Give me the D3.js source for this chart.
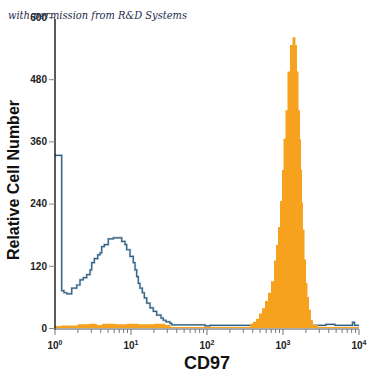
<!DOCTYPE html>
<html lang="en">
<meta charset="UTF-8">
<title>CD97</title>
<script src="https://d3js.org/d3.v7.min.js"></script>
<style>
html, body { margin: 0; padding: 0; background: #fff; }
svg text { font-family: "Liberation Sans", Arial, sans-serif; }
</style>
<body>
<div id="chart"></div>
<script>
// y tick values and x decades
var yTicks = [0, 120, 240, 360, 480, 600];
var xDecades = [0, 1, 2, 3, 4];

// blue (isotype) histogram: [log10 left edge, count]
var isotypeSteps = [
  [0.000, 333], [0.088, 72], [0.118, 68], [0.158, 66], [0.220, 77], [0.286, 83],
  [0.329, 93], [0.372, 97], [0.417, 103], [0.461, 112], [0.483, 126], [0.517, 134],
  [0.562, 141], [0.592, 145], [0.614, 157], [0.649, 161], [0.701, 172], [0.767, 174],
  [0.878, 167], [0.921, 161], [0.943, 151], [0.987, 138], [1.030, 126], [1.053, 112],
  [1.075, 99], [1.096, 86], [1.118, 77], [1.149, 68], [1.175, 58], [1.207, 48],
  [1.250, 39], [1.293, 32], [1.338, 25], [1.395, 19], [1.425, 15], [1.461, 12],
  [1.513, 9], [1.536, 6], [1.974, 4], [2.039, 5], [3.263, 10], [3.309, 5],
  [3.566, 7], [3.684, 5], [3.914, 11], [3.941, 5], [4.000, 5]
];

// orange (CD97 stained) histogram: [log10 left edge, count]
var stainedSteps = [
  [0.000, 4], [0.080, 5], [0.300, 7], [0.450, 8], [0.550, 6], [0.620, 8],
  [0.800, 7], [0.950, 8], [1.100, 7], [1.300, 8], [1.450, 6], [1.520, 2],
  [2.566, 8], [2.605, 12], [2.645, 18], [2.684, 28], [2.724, 38], [2.763, 52],
  [2.803, 68], [2.842, 90], [2.882, 130], [2.908, 160], [2.934, 195], [2.961, 245],
  [2.987, 305], [3.007, 365], [3.033, 420], [3.059, 495], [3.092, 546], [3.125, 561],
  [3.164, 546], [3.184, 495], [3.204, 420], [3.224, 364], [3.237, 306], [3.250, 242],
  [3.263, 190], [3.283, 132], [3.303, 87], [3.322, 60], [3.342, 35], [3.368, 15],
  [3.395, 6], [3.460, 2], [4.000, 2]
];

var W = 375, H = 375;
var svg = d3.select("#chart").append("svg")
    .attr("width", W).attr("height", H);

var x = d3.scaleLog().domain([1, 10000]).range([55, 359]);
var y = d3.scaleLinear().domain([0, 600]).range([328, 17]);

// blue outline
var line = d3.line()
    .x(function(d) { return x(Math.pow(10, d[0])); })
    .y(function(d) { return y(d[1]); })
    .curve(d3.curveStepAfter);

svg.append("path")
    .datum(isotypeSteps)
    .attr("fill", "none")
    .attr("stroke", "#c9d9e4")
    .attr("stroke-width", 2.4)
    .attr("d", line);
svg.append("path")
    .datum(isotypeSteps)
    .attr("fill", "none")
    .attr("stroke", "#2f5c7c")
    .attr("stroke-width", 1.2)
    .attr("d", line);

// orange filled histogram
var area = d3.area()
    .x(function(d) { return x(Math.pow(10, d[0])); })
    .y0(y(0))
    .y1(function(d) { return y(d[1]); })
    .curve(d3.curveStepAfter);

svg.append("path")
    .datum(stainedSteps)
    .attr("fill", "#f6a21e")
    .attr("d", area);

// y axis
var yAxis = svg.append("g")
    .attr("transform", "translate(55,0)")
    .call(d3.axisLeft(y).tickValues(yTicks).tickSize(6).tickPadding(2));
yAxis.select(".domain").attr("stroke", "#000").attr("stroke-width", 1.3)
    .attr("d", "M0," + (y(600) + 2) + "V" + (y(0) + 2));
yAxis.selectAll(".tick line").attr("stroke", "#888");
yAxis.selectAll(".tick text")
    .attr("font-size", 10).attr("font-weight", "bold").attr("fill", "#222");

// x axis with minor ticks
var minor = [];
for (var p = 0; p < 4; p++) {
  for (var m = 2; m < 10; m++) minor.push(m * Math.pow(10, p));
}
var xAxis = svg.append("g")
    .attr("transform", "translate(0,329)");
xAxis.append("line")
    .attr("x1", 55).attr("x2", 359)
    .attr("stroke", "#555").attr("stroke-width", 1);
xAxis.selectAll(".minor").data(minor).enter().append("line")
    .attr("x1", function(d) { return x(d); })
    .attr("x2", function(d) { return x(d); })
    .attr("y1", 0).attr("y2", 4)
    .attr("stroke", "#777");
var major = xAxis.selectAll(".major").data(xDecades).enter().append("g")
    .attr("transform", function(d) { return "translate(" + x(Math.pow(10, d)) + ",0)"; });
major.append("line").attr("y1", 0).attr("y2", 6).attr("stroke", "#777");
var lbl = major.append("text")
    .attr("y", 20)
    .attr("text-anchor", "middle")
    .attr("font-size", 10).attr("font-weight", "bold").attr("fill", "#222");
lbl.append("tspan").text("10");
lbl.append("tspan").attr("dy", -4).attr("font-size", 7).text(function(d) { return d; });

// axis titles
svg.append("text")
    .attr("x", 207).attr("y", 369)
    .attr("text-anchor", "middle")
    .attr("font-size", 18).attr("font-weight", "bold").attr("fill", "#111")
    .text("CD97");
svg.append("text")
    .attr("transform", "translate(19,180) rotate(-90)")
    .attr("text-anchor", "middle")
    .attr("font-size", 16).attr("font-weight", "bold").attr("fill", "#111")
    .text("Relative Cell Number");

// watermark (overlaps the 600 label, as in the original image)
svg.append("text")
    .attr("x", 8).attr("y", 19)
    .style("font-family", "'DejaVu Serif', 'Liberation Serif', serif")
    .style("font-style", "italic")
    .attr("font-size", 11)
    .attr("fill", "#1c2a4a")
    .attr("textLength", 179)
    .attr("lengthAdjust", "spacingAndGlyphs")
    .text("with permission from R&D Systems");
</script>
</body>
</html>
